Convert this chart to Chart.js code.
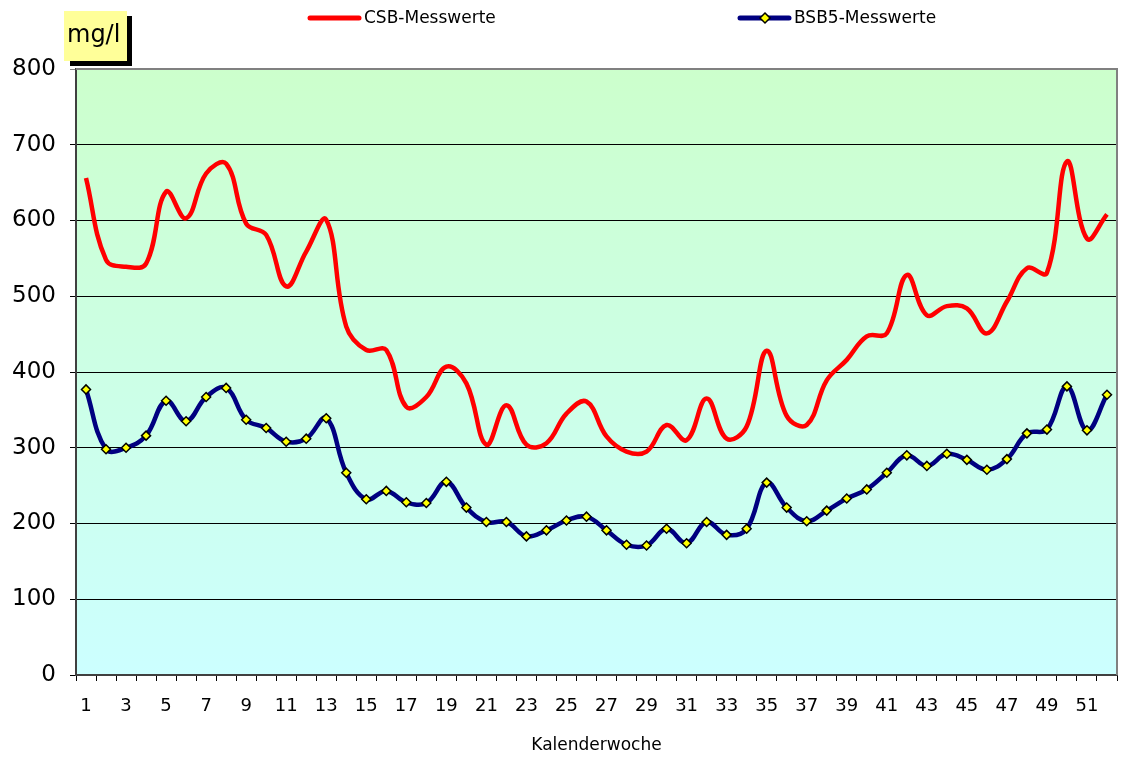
<!DOCTYPE html>
<html>
<head>
<meta charset="utf-8">
<script src="https://cdn.jsdelivr.net/npm/chart.js@4/dist/chart.umd.min.js"></script>
<style>
  html, body { margin: 0; padding: 0; background: #fff; }
  #wrap { width: 1123px; height: 758px; position: relative; }
</style>
</head>
<body>
<div id="wrap"><canvas id="chart" width="1123" height="758"></canvas></div>
<script>
const weeks = ['1','2','3','4','5','6','7','8','9','10','11','12','13','14','15','16','17','18','19','20',
  '21','22','23','24','25','26','27','28','29','30','31','32','33','34','35','36','37','38','39','40',
  '41','42','43','44','45','46','47','48','49','50','51','52']

const csb = [656, 548, 539, 543, 638, 603, 662, 675, 596, 581,
  513, 559, 601, 460, 429, 429, 354, 367, 407, 385,
  304, 356, 304, 306, 345, 361, 315, 295, 295, 330,
  310, 365, 312, 328, 428, 342, 330, 389, 416, 447,
  451, 528, 475, 487, 484, 451, 493, 537, 531, 678,
  576, 608]

const bsb5 = [377, 298, 300, 316, 362, 335, 367, 379, 337, 326,
  308, 312, 339, 267, 232, 243, 228, 227, 255, 221,
  202, 202, 183, 191, 204, 209, 191, 172, 171, 193,
  174, 202, 185, 193, 254, 221, 203, 217, 233, 245,
  267, 290, 276, 292, 284, 271, 285, 319, 324, 381,
  323, 370]

const yTicks = [0, 100, 200, 300, 400, 500, 600, 700, 800]

const FONT = "'DejaVu Sans', sans-serif"

// gradient background + plot border
const plotArea = {
  id: 'plotArea',
  beforeDraw(chart) {
    const { ctx, chartArea: a } = chart
    const g = ctx.createLinearGradient(0, a.top, 0, a.bottom)
    g.addColorStop(0, '#ccffcc')
    g.addColorStop(1, '#ccffff')
    ctx.save()
    ctx.fillStyle = g
    ctx.fillRect(a.left, a.top, a.right - a.left, a.bottom - a.top)
    ctx.restore()
  },
  afterDatasetsDraw(chart) {
    const { ctx, chartArea: a } = chart
    ctx.save()
    ctx.strokeStyle = '#808080'
    ctx.lineWidth = 2
    ctx.beginPath()
    ctx.moveTo(a.left, a.top)
    ctx.lineTo(a.right, a.top)
    ctx.lineTo(a.right, a.bottom)
    ctx.stroke()
    ctx.restore()
  }
}

// unit box and legend
const extras = {
  id: 'extras',
  afterDraw(chart) {
    const { ctx } = chart
    ctx.save()
    // mg/l box with shadow
    ctx.fillStyle = '#000'
    ctx.fillRect(70, 16, 62, 50)
    ctx.fillStyle = '#ffff99'
    ctx.fillRect(64, 11, 63, 50)
    ctx.fillStyle = '#000'
    ctx.font = '24px ' + FONT
    ctx.textBaseline = 'middle'
    ctx.textAlign = 'left'
    ctx.fillText('mg/l', 67, 36)

    // legend
    const items = [
      { x: 310, ds: chart.data.datasets[0] },
      { x: 740, ds: chart.data.datasets[1] }
    ]
    ctx.font = '17px ' + FONT
    items.forEach(it => {
      const y = 18
      ctx.strokeStyle = it.ds.borderColor
      ctx.lineWidth = 5
      ctx.lineCap = 'round'
      ctx.beginPath()
      ctx.moveTo(it.x, y)
      ctx.lineTo(it.x + 49, y)
      ctx.stroke()
      if (it.ds.pointRadius > 0) {
        const cx = it.x + 25
        ctx.beginPath()
        ctx.moveTo(cx, y - 5)
        ctx.lineTo(cx + 5, y)
        ctx.lineTo(cx, y + 5)
        ctx.lineTo(cx - 5, y)
        ctx.closePath()
        ctx.fillStyle = it.ds.pointBackgroundColor
        ctx.fill()
        ctx.lineWidth = 1.5
        ctx.strokeStyle = it.ds.pointBorderColor
        ctx.stroke()
      }
      ctx.fillStyle = '#000'
      ctx.fillText(it.ds.label, it.x + 54, y + 1)
    })
    ctx.restore()
  }
}

new Chart(document.getElementById('chart').getContext('2d'), {
  type: 'line',
  data: {
    labels: weeks,
    datasets: [
      {
        label: 'CSB-Messwerte',
        data: csb,
        borderColor: '#ff0000',
        borderWidth: 4.5,
        pointRadius: 0,
        tension: 0.4,
      },
      {
        label: 'BSB5-Messwerte',
        data: bsb5,
        borderColor: '#000080',
        borderWidth: 4.5,
        pointStyle: 'rectRot',
        pointRadius: 4.5,
        pointBackgroundColor: '#ffff00',
        pointBorderColor: '#000000',
        pointBorderWidth: 1.5,
        tension: 0.4,
      },
    ],
  },
  options: {
    responsive: false,
    animation: false,
    layout: { padding: { top: 69, right: 3, left: 0, bottom: 0 } },
    plugins: {
      legend: { display: false },
      tooltip: { enabled: false },
    },
    scales: {
      x: {
        type: 'category',
        offset: true,
        afterFit(axis) { axis.height = 83 },
        grid: {
          offset: true,
          drawOnChartArea: false,
          drawTicks: true,
          tickLength: 6,
          color: '#000',
        },
        border: { color: '#404040', width: 2 },
        ticks: {
          autoSkip: false,
          maxRotation: 0,
          padding: 15,
          color: '#000',
          font: { family: FONT, size: 18 },
          callback(v, i) { return i % 2 === 0 ? weeks[i] : '' },
        },
        title: {
          display: true,
          text: 'Kalenderwoche',
          color: '#000',
          font: { family: FONT, size: 17 },
          padding: { top: 0, bottom: 2 },
        },
      },
      y: {
        min: 0,
        max: 800,
        afterFit(axis) { axis.width = 76 },
        afterBuildTicks(axis) { axis.ticks = yTicks.map(v => ({ value: v })) },
        grid: {
          color(c) { return c.tick && c.tick.value === 800 ? '#808080' : '#000' },
          lineWidth: 1,
          tickLength: 6,
        },
        border: { color: '#404040', width: 2 },
        ticks: {
          padding: 14,
          color: '#000',
          font: { family: FONT, size: 23 },
        },
      },
    },
  },
  plugins: [plotArea, extras],
})
</script>
</body>
</html>
